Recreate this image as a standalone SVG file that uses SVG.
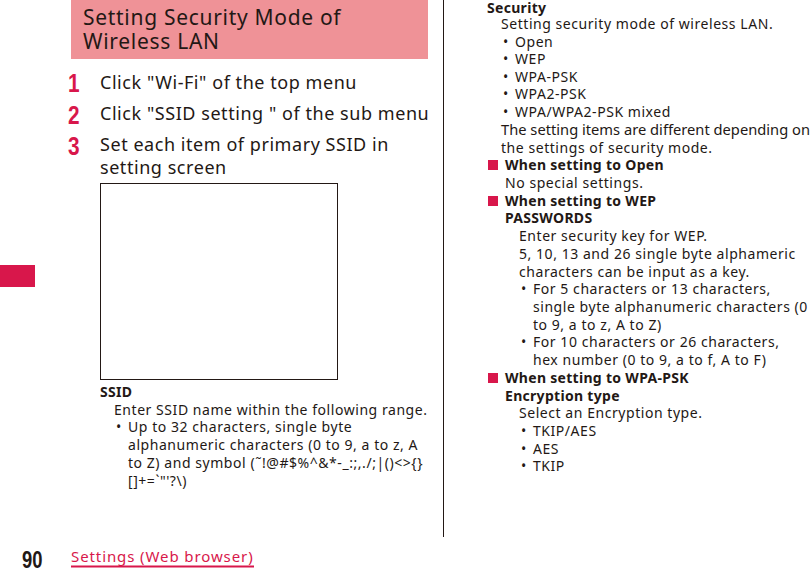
<svg xmlns="http://www.w3.org/2000/svg" width="812" height="570" viewBox="0 0 812 570">
<style>
text{font-family:"Noto Sans","DejaVu Sans",sans-serif;fill:#231815}
.b{font-size:14px;letter-spacing:0.55px}
.h{font-size:14px;font-weight:bold;letter-spacing:0.3px}
.s{font-size:18px;letter-spacing:0.55px}
.n{font-size:26px;font-weight:bold;fill:#d8174b;font-family:"Liberation Sans",sans-serif}
.sq{fill:#d8174b}
</style>
<rect width="812" height="570" fill="#fff"/>
<g id="header"><rect x="71" y="0" width="357" height="59" fill="#ef9297"/>
<text x="83" y="25" style="font-size:21px;letter-spacing:0.7px">Setting Security Mode of</text>
<text x="83" y="49" style="font-size:21px;letter-spacing:0.7px">Wireless LAN</text></g>
<g id="steps">
<text class="n" x="68" y="92" transform="translate(68 0) scale(0.8 1) translate(-68 0)">1</text>
<text class="s" x="100" y="89">Click "Wi-Fi" of the top menu</text>
<text class="n" x="68" y="124" transform="translate(68 0) scale(0.8 1) translate(-68 0)">2</text>
<text class="s" x="100" y="120">Click "SSID setting " of the sub menu</text>
<text class="n" x="68" y="155" transform="translate(68 0) scale(0.8 1) translate(-68 0)">3</text>
<text class="s" x="100" y="151">Set each item of primary SSID in</text>
<text class="s" x="100" y="174">setting screen</text>
</g>
<rect id="screen" x="100.5" y="183.5" width="237" height="196" fill="none" stroke="#231815"/>
<g id="ssid">
<text class="h" x="100" y="397">SSID</text>
<text class="b" x="114" y="415">Enter SSID name within the following range.</text>
<text class="b" x="116" y="432">•</text>
<text class="b" x="128" y="432">Up to 32 characters, single byte</text>
<text class="b" x="128" y="450">alphanumeric characters (0 to 9, a to z, A</text>
<text class="b" x="128" y="468">to Z) and symbol (˜!@#$%^&amp;*-_:;,./;|()&lt;&gt;{}</text>
<text class="b" x="128" y="486">[]+=`"'?\)</text>
</g>
<line x1="443.5" y1="0" x2="443.5" y2="537" stroke="#231815"/>
<rect x="0" y="265" width="35" height="22" fill="#d8174b"/>
<g id="right">
<text class="h" x="487" y="13">Security</text>
<text class="b" x="501" y="29">Setting security mode of wireless LAN.</text>
<text class="b" x="503" y="47">•</text><text class="b" x="515" y="47">Open</text>
<text class="b" x="503" y="64">•</text><text class="b" x="515" y="64">WEP</text>
<text class="b" x="503" y="82">•</text><text class="b" x="515" y="82">WPA-PSK</text>
<text class="b" x="503" y="99">•</text><text class="b" x="515" y="99">WPA2-PSK</text>
<text class="b" x="503" y="117">•</text><text class="b" x="515" y="117">WPA/WPA2-PSK mixed</text>
<text class="b" x="501" y="135" textLength="309" lengthAdjust="spacingAndGlyphs" style="letter-spacing:0">The setting items are different depending on</text>
<text class="b" x="501" y="153">the settings of security mode.</text>
<rect class="sq" x="488" y="160" width="10" height="10"/><text class="h" x="505" y="170">When setting to Open</text>
<text class="b" x="505" y="188">No special settings.</text>
<rect class="sq" x="488" y="196" width="10" height="10"/><text class="h" x="505" y="206">When setting to WEP</text>
<text class="h" x="505" y="223">PASSWORDS</text>
<text class="b" x="519" y="241">Enter security key for WEP.</text>
<text class="b" x="519" y="259">5, 10, 13 and 26 single byte alphameric</text>
<text class="b" x="519" y="277">characters can be input as a key.</text>
<text class="b" x="521" y="294">•</text><text class="b" x="533" y="294">For 5 characters or 13 characters,</text>
<text class="b" x="533" y="312">single byte alphanumeric characters (0</text>
<text class="b" x="533" y="330">to 9, a to z, A to Z)</text>
<text class="b" x="521" y="347">•</text><text class="b" x="533" y="347">For 10 characters or 26 characters,</text>
<text class="b" x="533" y="365">hex number (0 to 9, a to f, A to F)</text>
<rect class="sq" x="488" y="373" width="10" height="10"/><text class="h" x="505" y="383">When setting to WPA-PSK</text>
<text class="h" x="505" y="401">Encryption type</text>
<text class="b" x="519" y="418">Select an Encryption type.</text>
<text class="b" x="521" y="436">•</text><text class="b" x="533" y="436">TKIP/AES</text>
<text class="b" x="521" y="454">•</text><text class="b" x="533" y="454">AES</text>
<text class="b" x="521" y="471">•</text><text class="b" x="533" y="471">TKIP</text>
</g>
<g id="footer">
<text x="22" y="568" style="font-size:23px;font-weight:bold;font-family:'Liberation Sans',sans-serif" transform="translate(22 0) scale(0.8 1) translate(-22 0)">90</text>
<text x="71" y="562" style="font-size:15px;fill:#d8174b;letter-spacing:0.9px">Settings (Web browser)</text>
<line x1="71" y1="566.5" x2="254" y2="566.5" stroke="#d8174b" stroke-width="2"/>
</g>
</svg>
